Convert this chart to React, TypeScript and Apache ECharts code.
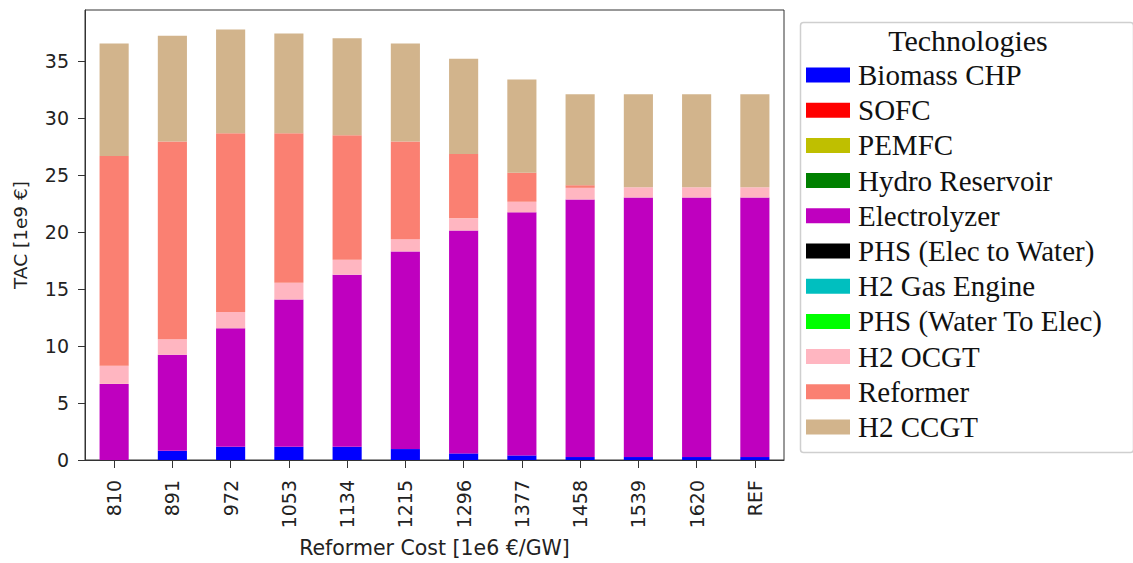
import React, { useEffect, useRef } from "react";
import * as echarts from "echarts";

const categories = ["810", "891", "972", "1053", "1134", "1215", "1296", "1377", "1458", "1539", "1620", "REF"];

const biomassCHP = [0, 0.81, 1.16, 1.16, 1.16, 0.96, 0.58, 0.4, 0.26, 0.26, 0.26, 0.26];
const sofc = [0, 0, 0, 0, 0, 0, 0, 0, 0, 0, 0, 0];
const pemfc = [0, 0, 0, 0, 0, 0, 0, 0, 0, 0, 0, 0];
const hydroReservoir = [0, 0, 0, 0, 0, 0, 0, 0, 0, 0, 0, 0];
const electrolyzer = [6.68, 8.43, 10.4, 12.93, 15.11, 17.35, 19.56, 21.34, 22.61, 22.78, 22.78, 22.78];
const phsElecToWater = [0, 0, 0, 0, 0, 0, 0, 0, 0, 0, 0, 0];
const h2GasEngine = [0, 0, 0, 0, 0, 0, 0, 0, 0, 0, 0, 0];
const phsWaterToElec = [0, 0, 0, 0, 0, 0, 0, 0, 0, 0, 0, 0];
const h2OCGT = [1.6, 1.36, 1.43, 1.46, 1.31, 1.07, 1.07, 0.93, 1.02, 0.9, 0.9, 0.9];
const reformer = [18.4, 17.35, 15.69, 13.13, 10.93, 8.57, 5.64, 2.55, 0.23, 0, 0, 0];
const h2CCGT = [9.87, 9.3, 9.1, 8.75, 8.51, 8.61, 8.37, 8.17, 7.99, 8.17, 8.17, 8.17];

const yTicks = [0, 5, 10, 15, 20, 25, 30, 35];

const technologies = [
  { name: "Biomass CHP", color: "#0000ff", data: biomassCHP },
  { name: "SOFC", color: "#ff0000", data: sofc },
  { name: "PEMFC", color: "#bfbf00", data: pemfc },
  { name: "Hydro Reservoir", color: "#008000", data: hydroReservoir },
  { name: "Electrolyzer", color: "#bf00bf", data: electrolyzer },
  { name: "PHS (Elec to Water)", color: "#000000", data: phsElecToWater },
  { name: "H2 Gas Engine", color: "#00bfbf", data: h2GasEngine },
  { name: "PHS (Water To Elec)", color: "#00ff00", data: phsWaterToElec },
  { name: "H2 OCGT", color: "#ffb6c1", data: h2OCGT },
  { name: "Reformer", color: "#fa8072", data: reformer },
  { name: "H2 CCGT", color: "#d2b48c", data: h2CCGT },
];

const SANS = "DejaVu Sans";
const SERIF = "Liberation Serif";
const INK = "#222";

export default function App() {
  const ref = useRef<HTMLDivElement>(null);

  useEffect(() => {
    if (!ref.current) return;
    const chart = echarts.init(ref.current, null, { renderer: "svg" });
    chart.setOption({
      animation: false,
      backgroundColor: "#fff",
      grid: {
        left: 85,
        right: 349,
        top: 10,
        bottom: 100,
        show: true,
        borderColor: "#333",
        borderWidth: 1,
        backgroundColor: "transparent",
      },
      xAxis: {
        type: "category",
        data: categories,
        name: "Reformer Cost [1e6 €/GW]",
        nameLocation: "middle",
        nameGap: 77,
        nameTextStyle: { fontFamily: SANS, fontSize: 20.5, color: INK },
        axisLine: { lineStyle: { color: "#333", width: 1 } },
        axisTick: { show: true, alignWithLabel: true, length: 8, lineStyle: { color: "#333" } },
        axisLabel: {
          rotate: 90,
          margin: 20,
          fontFamily: SANS,
          fontSize: 19,
          color: INK,
        },
        splitLine: { show: false },
      },
      yAxis: {
        type: "value",
        min: 0,
        max: 39.5,
        interval: 5,
        name: "TAC [1e9 €]",
        nameLocation: "middle",
        nameGap: 55,
        nameRotate: 90,
        nameTextStyle: { fontFamily: SANS, fontSize: 18.5, color: INK },
        axisLine: { show: true, lineStyle: { color: "#333", width: 1 } },
        axisTick: { show: true, length: 7, lineStyle: { color: "#333" }, customValues: yTicks },
        axisLabel: {
          margin: 16,
          fontFamily: SANS,
          fontSize: 19,
          color: INK,
          customValues: yTicks,
        },
        splitLine: { show: false },
      },
      legend: {
        orient: "vertical",
        left: 798,
        top: 20,
        padding: [40.5, 8, 8, 8],
        itemWidth: 44,
        itemHeight: 15,
        itemGap: 6.2,
        icon: "rect",
        selectedMode: false,
        textStyle: {
          fontFamily: SERIF,
          fontSize: 29,
          lineHeight: 29,
          color: "#111",
          padding: [0, 0, 0, 3],
        },
        data: technologies.map((t) => t.name),
      },
      graphic: [
        {
          type: "rect",
          left: 798,
          top: 20,
          shape: { width: 333, height: 430, r: 3 },
          style: { fill: "none", stroke: "#cfcfcf", lineWidth: 1.5 },
          silent: true,
          z: -1,
        },
        {
          type: "text",
          x: 968,
          y: 40,
          style: {
            text: "Technologies",
            fontFamily: SERIF,
            fontSize: 30,
            fill: "#111",
            align: "center",
            verticalAlign: "middle",
          },
        },
      ],
      series: technologies.map((t) => ({
        name: t.name,
        type: "bar",
        stack: "tac",
        barWidth: "50%",
        data: t.data,
        itemStyle: { color: t.color },
        emphasis: { disabled: true },
      })),
    });
    return () => chart.dispose();
  }, []);

  return (
    <div
      ref={ref}
      style={{ position: "fixed", left: 0, top: 0, width: 1133, height: 563 }}
    />
  );
}
